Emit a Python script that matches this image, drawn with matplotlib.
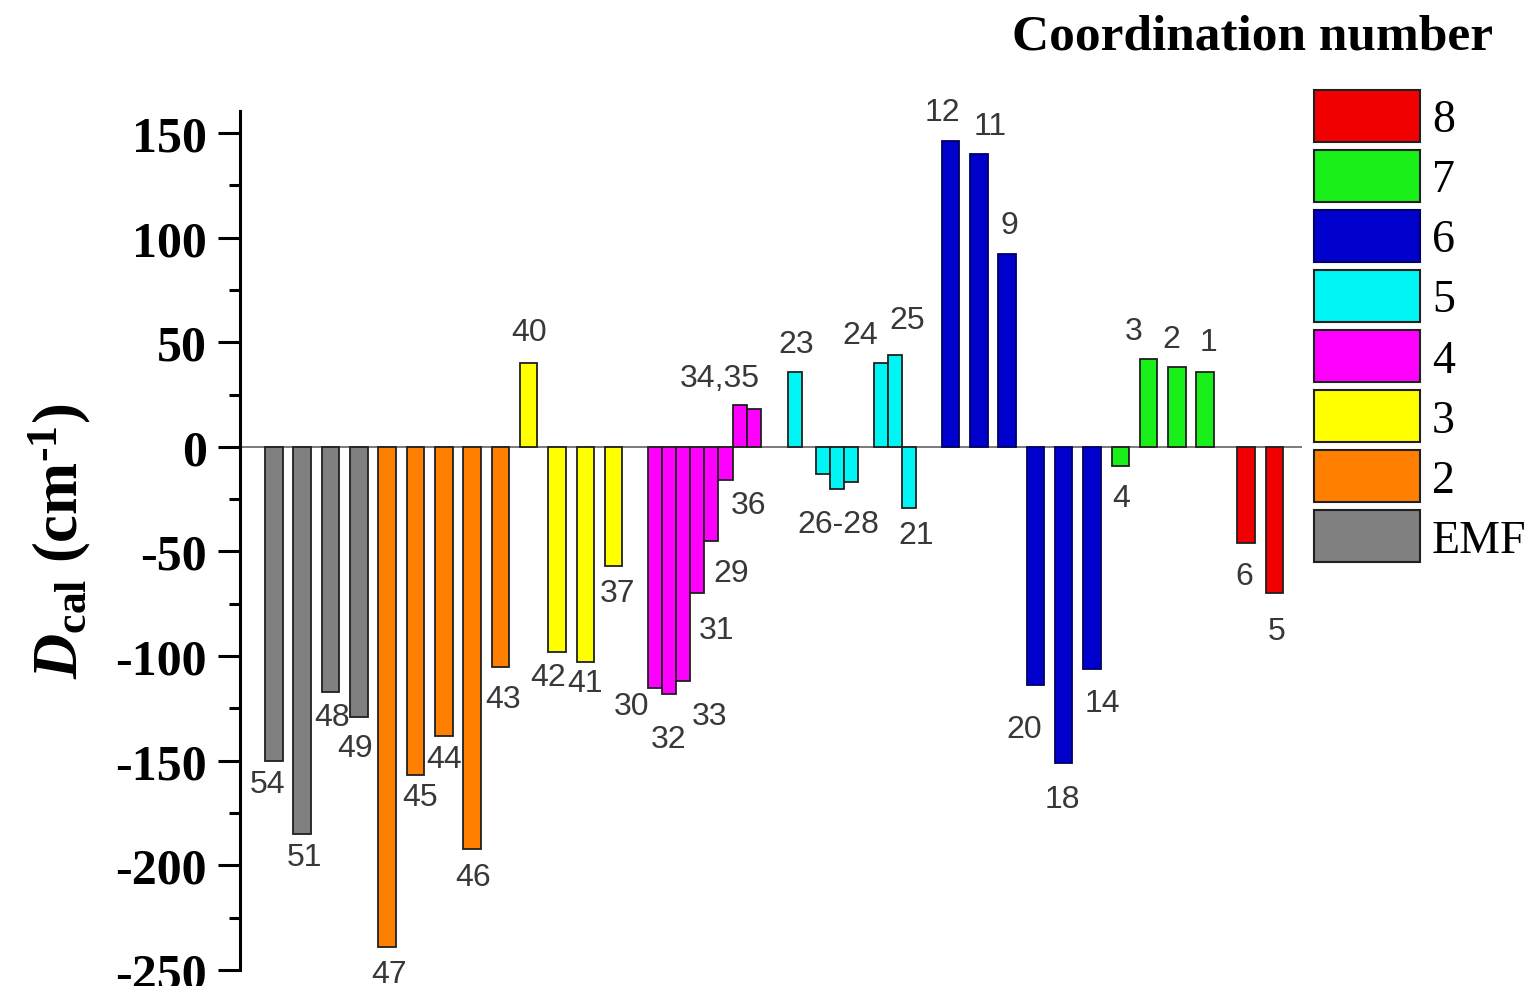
import matplotlib
matplotlib.use("Agg")
import matplotlib.pyplot as plt
from matplotlib.patches import Patch

# ---- data ----
compounds = ['54', '51', '48', '49',
             '47', '45', '44', '46', '43',
             '40', '42', '41', '37',
             '30', '32', '33', '31', '29', '36', '34', '35',
             '23', '26', '27', '28', '24', '25', '21',
             '12', '11', '9', '20', '18', '14',
             '4', '3', '2', '1',
             '6', '5']
d_cal = [-150, -185, -117, -129,
         -239, -157, -138, -192, -105,
         40, -98, -103, -57,
         -115, -118, -112, -70, -45, -16, 20, 18,
         36, -13, -20, -17, 40, 44, -29,
         146, 140, 92, -114, -151, -106,
         -9, 42, 38, 36,
         -46, -70]
coord = ['EMF'] * 4 + ['2'] * 5 + ['3'] * 4 + ['4'] * 8 + ['5'] * 7 + ['6'] * 6 + ['7'] * 4 + ['8'] * 2
x_pos = [1, 2, 3, 4, 5, 6, 7, 8, 9, 10, 11, 12, 13,
         14.45, 14.95, 15.45, 15.95, 16.45, 16.95, 17.45, 17.95,
         19.4, 20.4, 20.9, 21.4, 22.45, 22.95, 23.45,
         24.9, 25.9, 26.9, 27.9, 28.9, 29.9,
         30.9, 31.9, 32.9, 33.9,
         35.35, 36.35]
cn_order = ['8', '7', '6', '5', '4', '3', '2', 'EMF']

# ---- styles ----
colors = {'8': '#f00000', '7': '#19f019', '6': '#0000cc', '5': '#00f5f5',
          '4': '#ff00ff', '3': '#ffff00', '2': '#ff8000', 'EMF': '#808080'}
edges = {'6': '#000060'}
narrow = ['4', '5']

# label offsets from bar tip, in pixels (dx right, dy down)
lab_off = {
  '54': (-6, 23), '51': (2, 23), '48': (1, 25), '49': (-4, 31), '47': (2, 27),
  '45': (5, 22), '44': (0, 23), '46': (1, 28), '43': (3, 32),
  '40': (0, -31), '42': (-9, 25), '41': (0, 21), '37': (4, 27),
  '30': (-23, 18), '32': (0, 45), '33': (27, 35), '31': (19, 37), '29': (20, 32),
  '36': (23, 25), '34': (-20, -27), '23': (1, -28), '27': (1, 35), '21': (7, 27),
  '24': (-21, -28), '25': (12, -35), '12': (-8, -29), '11': (11, -28), '9': (2, -29),
  '20': (-11, 44), '18': (-1, 36), '14': (10, 34), '4': (1, 32), '3': (-15, -28),
  '2': (-6, -28), '1': (3, -30), '6': (-2, 33), '5': (2, 38)}
lab_text = {'34': '34,35', '27': '26-28'}

plt.rcParams['axes.unicode_minus'] = False
plt.rcParams['mathtext.fontset'] = 'custom'
plt.rcParams['mathtext.rm'] = 'Liberation Serif:bold'
plt.rcParams['mathtext.it'] = 'Liberation Serif:italic:bold'
plt.rcParams['mathtext.bf'] = 'Liberation Serif:bold'

W, H = 1535, 987
fig = plt.figure(figsize=(W / 100, H / 100), dpi=100)
ax = fig.add_axes([240 / W, (H - 971) / H, (1302 - 240) / W, (971 - 112) / H])

for i, c in enumerate(compounds):
  g = coord[i]
  w = 0.5 if g in narrow else 0.62
  ax.bar(x_pos[i], d_cal[i], width=w, color=colors[g], edgecolor=edges.get(g, '#202020'),
         linewidth=1.3, zorder=3)
  if c in lab_off:
    dx, dy = lab_off[c]
    ax.annotate(lab_text.get(c, c), (x_pos[i], d_cal[i]), xytext=(dx * 0.72, -dy * 0.72),
                textcoords='offset points', ha='center', va='center',
                fontsize=23, family='Liberation Sans', color='#383838', zorder=4)

ax.axhline(0, color='#707070', lw=1.3, zorder=2)
ax.set_xlim(-0.2, 37.32)
ax.set_ylim(-250, 160.5)
ax.set_yticks(range(-250, 151, 50))
ax.set_yticks(range(-225, 151, 50), minor=True)
ax.tick_params(axis='y', which='major', length=16, width=2.2, pad=8, labelsize=36)
ax.tick_params(axis='y', which='minor', length=8, width=2.2)
for t in ax.get_yticklabels():
  t.set_family('Liberation Serif')
  t.set_fontweight('bold')
ax.set_xticks([])
for s in ['top', 'right', 'bottom']:
  ax.spines[s].set_visible(False)
ax.spines['left'].set_linewidth(2.2)
ax.set_ylabel(r'$D_{\mathrm{cal}}$ (cm$^{\text{-1}}$)', family='Liberation Serif',
              fontweight='bold', fontsize=45)
ax.yaxis.set_label_coords(-0.138, 0.5)

handles = [Patch(facecolor=colors[g], edgecolor=edges.get(g, '#202020'), linewidth=1.5)
           for g in cn_order]
fig.legend(handles, cn_order, loc='upper left', bbox_to_anchor=(1314 / W, 1 - 91 / H),
           frameon=False, borderpad=0, borderaxespad=0, handlelength=2.31,
           handleheight=1.37, handletextpad=0.26, labelspacing=0.175,
           prop={'family': 'Liberation Serif', 'size': 33})
fig.text(1493 / W, 1 - 37 / H, 'Coordination number', ha='right', va='center',
         family='Liberation Serif', fontweight='bold', fontsize=37)

plt.savefig('out.png', dpi=100)
